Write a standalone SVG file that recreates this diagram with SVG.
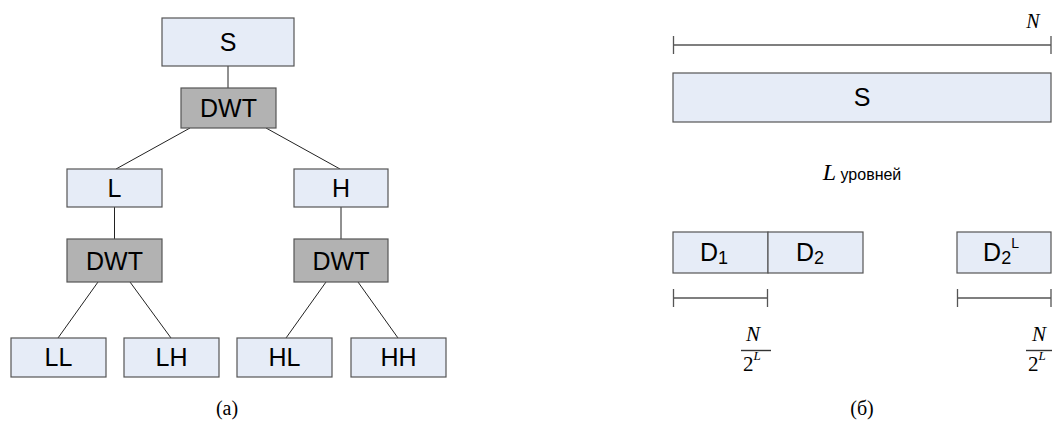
<svg xmlns="http://www.w3.org/2000/svg" width="1052" height="424" viewBox="0 0 1052 424">
  <style>
    .box { fill: #e6ecf7; stroke: #555; stroke-width: 1.2; }
    .op { fill: #b2b2b2; stroke: #555; stroke-width: 1.2; }
    .lbl { font-family: "Liberation Sans", Arial, sans-serif; font-size: 25px; fill: #000; text-anchor: middle; }
    .wire { stroke: #222; stroke-width: 1; fill: none; }
    .dim { stroke: #555; stroke-width: 1.3; fill: none; }
    .math { font-family: "Liberation Serif", "Times New Roman", serif; font-style: italic; fill: #000; }
    .num { font-family: "Liberation Serif", "Times New Roman", serif; fill: #000; }
    .cap { font-family: "Liberation Serif", "Times New Roman", serif; font-size: 20px; fill: #000; text-anchor: middle; }
  </style>

  <!-- connectors of the decomposition tree -->
  <g id="connectors">
    <line class="wire" x1="228" y1="66" x2="228" y2="88"/>
    <line class="wire" x1="190" y1="128" x2="116" y2="169"/>
    <line class="wire" x1="266" y1="128" x2="340" y2="169"/>
    <line class="wire" x1="114.5" y1="207" x2="114.5" y2="239"/>
    <line class="wire" x1="341" y1="207" x2="341" y2="239"/>
    <line class="wire" x1="98" y1="282" x2="58" y2="338"/>
    <line class="wire" x1="130" y1="282" x2="171" y2="338"/>
    <line class="wire" x1="326" y1="282" x2="286" y2="338"/>
    <line class="wire" x1="358" y1="282" x2="398" y2="338"/>
  </g>

  <!-- tree nodes -->
  <g id="node-s">
    <rect class="box" x="162" y="18" width="132" height="48"/>
    <text class="lbl" x="228" y="51">S</text>
  </g>
  <g id="node-dwt1">
    <rect class="op" x="181" y="88" width="95" height="40"/>
    <text class="lbl" x="228.5" y="117">DWT</text>
  </g>
  <g id="node-l">
    <rect class="box" x="67" y="169" width="95" height="38"/>
    <text class="lbl" x="114.5" y="197">L</text>
  </g>
  <g id="node-h">
    <rect class="box" x="294" y="169" width="94" height="38"/>
    <text class="lbl" x="341" y="197">H</text>
  </g>
  <g id="node-dwt2">
    <rect class="op" x="67" y="239" width="95" height="43"/>
    <text class="lbl" x="114.5" y="270">DWT</text>
  </g>
  <g id="node-dwt3">
    <rect class="op" x="294" y="239" width="94" height="43"/>
    <text class="lbl" x="341" y="270">DWT</text>
  </g>
  <g id="node-ll">
    <rect class="box" x="11" y="338" width="95" height="39"/>
    <text class="lbl" x="58.5" y="366">LL</text>
  </g>
  <g id="node-lh">
    <rect class="box" x="124" y="338" width="95" height="39"/>
    <text class="lbl" x="171.5" y="366">LH</text>
  </g>
  <g id="node-hl">
    <rect class="box" x="237" y="338" width="95" height="39"/>
    <text class="lbl" x="284.5" y="366">HL</text>
  </g>
  <g id="node-hh">
    <rect class="box" x="351" y="338" width="95" height="39"/>
    <text class="lbl" x="398.5" y="366">HH</text>
  </g>
  <text class="cap" x="227" y="415">(a)</text>

  <!-- signal length layout -->
  <g id="length-n">
    <path class="dim" d="M673.5 36 V54 M673.5 45 H1051 M1051 36 V54"/>
    <text class="math" x="1033" y="28" font-size="20" text-anchor="middle">N</text>
  </g>
  <g id="signal-s">
    <rect class="box" x="673" y="73" width="378" height="49"/>
    <text class="lbl" x="862" y="106">S</text>
  </g>
  <text x="862" y="180" text-anchor="middle"><tspan class="math" font-size="24">L</tspan><tspan font-family="Liberation Sans, Arial, sans-serif" font-size="16"> уровней</tspan></text>
  <g id="block-d1">
    <rect class="box" x="673" y="232" width="95" height="41"/>
    <text class="lbl" x="714" y="261">D<tspan font-size="18" dy="3">1</tspan></text>
  </g>
  <g id="block-d2">
    <rect class="box" x="768" y="232" width="95" height="41"/>
    <text class="lbl" x="810" y="261">D<tspan font-size="18" dy="3">2</tspan></text>
  </g>
  <g id="block-d2l">
    <rect class="box" x="957" y="232" width="94" height="41"/>
    <text class="lbl" x="1001" y="261">D<tspan font-size="18" dy="3">2</tspan><tspan font-size="14" dy="-16">L</tspan></text>
  </g>
  <g id="length-d1">
    <path class="dim" d="M673.5 289 V307 M673.5 298 H767.5 M767.5 289 V307"/>
    <text class="math" x="753" y="341" font-size="21" text-anchor="middle">N</text>
    <line x1="741" y1="350.5" x2="771" y2="350.5" stroke="#333" stroke-width="1.4"/>
    <text class="num" x="743" y="371" font-size="21">2<tspan class="math" font-size="13" dy="-11">L</tspan></text>
  </g>
  <g id="length-dl">
    <path class="dim" d="M957.5 289 V307 M957.5 298 H1051 M1051 289 V307"/>
    <text class="math" x="1039" y="341" font-size="21" text-anchor="middle">N</text>
    <line x1="1026" y1="350.5" x2="1052" y2="350.5" stroke="#333" stroke-width="1.4"/>
    <text class="num" x="1028" y="371" font-size="21">2<tspan class="math" font-size="13" dy="-11">L</tspan></text>
  </g>
  <text class="cap" x="862" y="415">(б)</text>
</svg>
